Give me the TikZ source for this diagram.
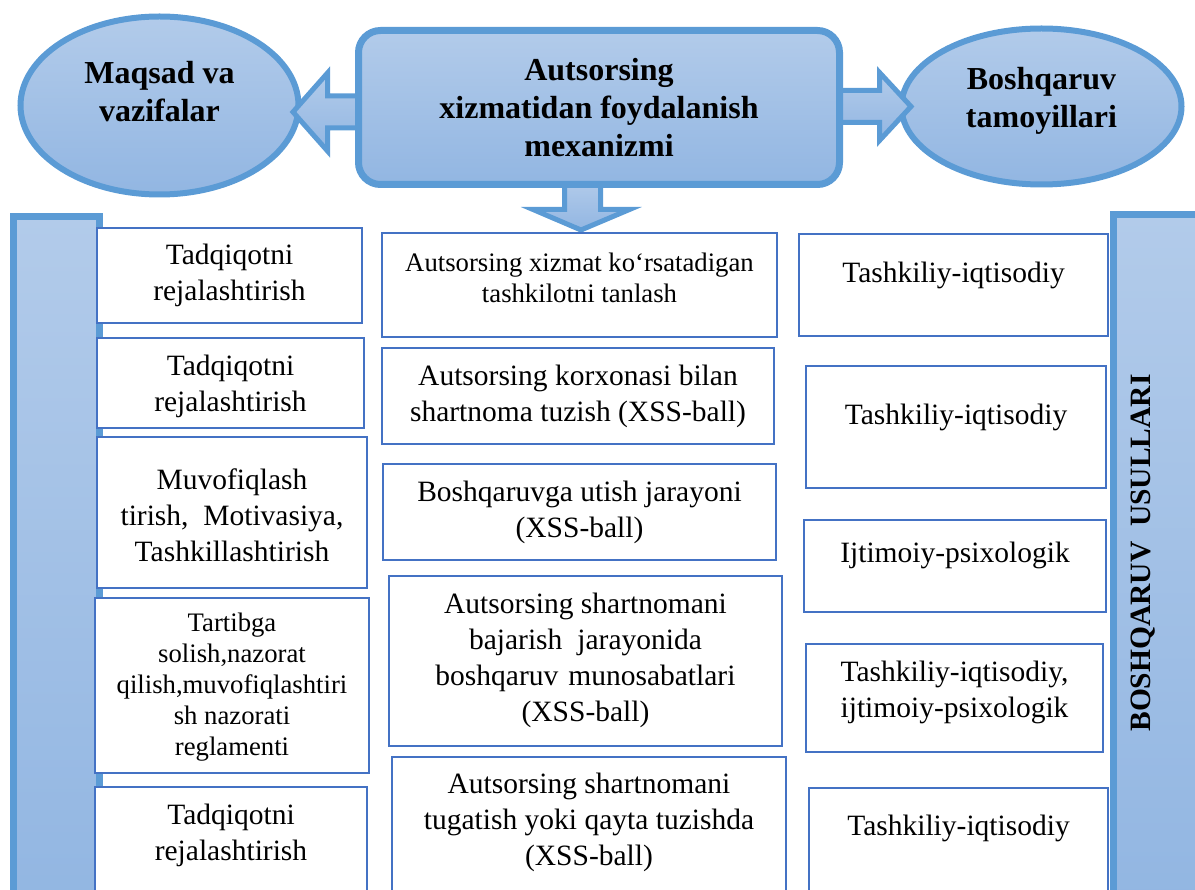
\documentclass[tikz,border=0pt]{standalone}
\usepackage{fontspec}
\setmainfont{Liberation Serif}
\usetikzlibrary{positioning,shapes.geometric}

\definecolor{accentblue}{RGB}{91,155,213}
\definecolor{boxblue}{RGB}{68,114,196}
\definecolor{shadetop}{RGB}{178,203,234}
\definecolor{shadebot}{RGB}{146,182,226}

\tikzstyle{bluepanel}=[draw=accentblue, top color=shadetop, bottom color=shadebot]
\tikzstyle{oval}=[bluepanel, ellipse, line width=6pt, inner sep=0pt]
\tikzstyle{mainbox}=[bluepanel, rectangle, rounded corners=22pt, line width=7pt, inner sep=0pt]
\tikzstyle{sidebar}=[bluepanel, rectangle, line width=7pt, inner sep=0pt]
\tikzstyle{blockarrow}=[bluepanel, line width=5pt, line join=miter]
\tikzstyle{item}=[draw=boxblue, line width=2.5pt, fill=white, rectangle, inner sep=0pt]
\tikzstyle{itemtext}=[align=center, font=\fontsize{29.5}{36}\selectfont]
\tikzstyle{smalltext}=[align=center, font=\fontsize{26.7}{31}\selectfont]
\tikzstyle{headtext}=[align=center, font=\fontsize{32}{38}\selectfont\bfseries]
\tikzstyle{bartext}=[font=\fontsize{29.5}{36}\selectfont\bfseries]

\begin{document}
\begin{tikzpicture}[x=1pt, y=-1pt]
    \clip (0,0) rectangle (1195,890);
    % side bars
    \node[sidebar, minimum width=86, minimum height=690] (leftbar) at (56.5,562) {};
    \node[sidebar, minimum width=87, minimum height=690] (rightbar) at (1157,560) {};
    \node[bartext, rotate=90] (usul) at (1143,553) {BOSHQARUV\ \ USULLARI};
    % ovals on top
    \node[oval, minimum width=278, minimum height=178] (goal) at (159.5,105.5) {};
    \node[headtext] (goal-t) at ([yshift=14pt]goal.center) {Maqsad va\\vazifalar};
    \node[oval, minimum width=280, minimum height=156] (princ) at (1041.5,106.5) {};
    \node[headtext] (princ-t) at ([yshift=6pt]princ.center) {Boshqaruv\\tamoyillari};
    % block arrows out of the main box
    \path[blockarrow] (360,96) -- (327.5,96) -- (327.5,73) -- (293,112) -- (327.5,151) -- (327.5,128) -- (360,128) -- cycle;
    \path[blockarrow] (835,90.5) -- (879.5,90.5) -- (879.5,72.5) -- (911,106.5) -- (879.5,140.5) -- (879.5,122.5) -- (835,122.5) -- cycle;
    \path[blockarrow] (564.5,180) -- (564.5,209.5) -- (533,209.5) -- (581,230) -- (629.5,209.5) -- (600.5,209.5) -- (600.5,180) -- cycle;
    \node[mainbox, minimum width=481, minimum height=154] (mech) at (599,107.5) {};
    \node[headtext] (mech-t) at (mech.center) {Autsorsing\\xizmatidan foydalanish\\mexanizmi};
    % Now the three columns of boxes
    \foreach \pos/\w/\h/\dy/\sty/\name/\txt in {
        {(229.5,275.5)/265/95/0/itemtext/l1/{Tadqiqotni\\rejalashtirish}},
        {(230.5,383)/267/90/-3/itemtext/l2/{Tadqiqotni\\rejalashtirish}},
        {(232,512.5)/270/151/-3/itemtext/l3/{Muvofiqlash\\tirish,\ \ Motivasiya,\\Tashkillashtirish}},
        {(232,685.5)/274/175/-2/smalltext/l4/{Tartibga\\solish,nazorat\\qilish,muvofiqlashtiri\\sh nazorati\\reglamenti}},
        {(231,843.5)/272/113/8/itemtext/l5/{Tadqiqotni\\rejalashtirish}},
        {(579.5,285)/395/104/7/smalltext/m1/{Autsorsing xizmat ko‘rsatadigan\\tashkilotni tanlash}},
        {(578,396)/392/96/0/itemtext/m2/{Autsorsing korxonasi bilan\\shartnoma tuzish (XSS-ball)}},
        {(579.5,512)/393/96/0/itemtext/m3/{Boshqaruvga utish jarayoni\\(XSS-ball)}},
        {(585.5,661)/393/170/1/itemtext/m4/{Autsorsing shartnomani\\bajarish\hspace{15pt}jarayonida\\boshqaruv\hspace{10pt}munosabatlari\\(XSS-ball)}},
        {(589,828.5)/394/143/6/itemtext/m5/{Autsorsing shartnomani\\tugatish yoki qayta tuzishda\\(XSS-ball)}},
        {(953.5,285)/309/102/10/itemtext/r1/{Tashkiliy-iqtisodiy}},
        {(956,427)/300/122/10/itemtext/r2/{Tashkiliy-iqtisodiy}},
        {(955,566)/302/92/11/itemtext/r3/{Ijtimoiy-psixologik}},
        {(954.5,698)/297/108/6/itemtext/r4/{Tashkiliy-iqtisodiy,\\ijtimoiy-psixologik}},
        {(958.5,844)/299/112/16/itemtext/r5/{Tashkiliy-iqtisodiy}}}
    {
        \node[item, minimum width=\w, minimum height=\h] (\name) at \pos {};
        \node[\sty] (\name-t) at ([yshift=\dy pt]\name.center) {\txt};
    }
\end{tikzpicture}
\end{document}
